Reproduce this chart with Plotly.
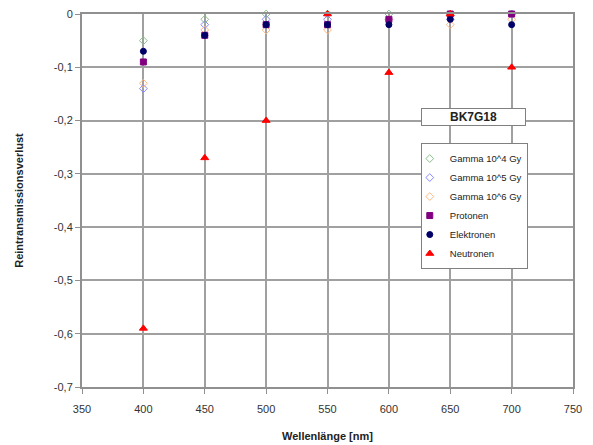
import plotly.graph_objects as go

wavelength = [400, 450, 500, 550, 600, 650, 700]
gamma4 = [-0.05, -0.01, 0.0, 0.0, 0.0, 0.0, 0.0]
gamma5 = [-0.14, -0.02, -0.01, -0.01, -0.01, -0.01, 0.0]
gamma6 = [-0.13, -0.03, -0.03, -0.03, -0.01, -0.02, -0.01]
protonen = [-0.09, -0.04, -0.02, -0.02, -0.01, 0.0, 0.0]
elektronen = [-0.07, -0.04, -0.02, -0.02, -0.02, -0.01, -0.02]
neutronen = [-0.59, -0.27, -0.2, 0.0, -0.11, 0.0, -0.1]

y_tickvals = [0, -0.1, -0.2, -0.3, -0.4, -0.5, -0.6, -0.7]
y_ticktext = ["0", "-0,1", "-0,2", "-0,3", "-0,4", "-0,5", "-0,6", "-0,7"]

series = [
    ("Gamma 10^4 Gy", gamma4, "diamond-open", "#88c088", 6),
    ("Gamma 10^5 Gy", gamma5, "diamond-open", "#8888ff", 6),
    ("Gamma 10^6 Gy", gamma6, "diamond-open", "#ffb880", 6),
    ("Protonen", protonen, "square", "#800080", 6),
    ("Elektronen", elektronen, "circle", "#000066", 6),
    ("Neutronen", neutronen, "triangle-up", "#ff0000", 7),
]

fig = go.Figure()
for name, vals, sym, col, sz in series:
    fig.add_trace(go.Scatter(
        x=wavelength, y=vals, mode="markers", name=name,
        marker=dict(symbol=sym, color=col, size=sz, line=dict(color=col, width=1)),
        cliponaxis=False,
    ))

axis_common = dict(
    showgrid=True, gridcolor="#a0a0a0", gridwidth=1.5,
    showline=True, linecolor="#909090", linewidth=2, mirror=True,
    ticks="outside", ticklen=5, tickcolor="#909090",
    zeroline=False, automargin=False,
    tickfont=dict(family="Liberation Sans, Arial", size=11, color="#333333"),
)

fig.update_layout(
    width=593, height=445,
    margin=dict(l=82, r=20, t=14, b=58),
    paper_bgcolor="white", plot_bgcolor="white",
    font=dict(family="Liberation Sans, Arial", size=11, color="#222222"),
    xaxis=dict(range=[350, 750], dtick=50, ticklabelstandoff=6,
               title=dict(text="<b>Wellenlänge [nm]</b>", font=dict(size=11), standoff=18),
               **axis_common),
    yaxis=dict(range=[-0.7, 0], tickvals=y_tickvals, ticktext=y_ticktext,
               title=dict(text="<b>Reintransmissionsverlust</b>", font=dict(size=11), standoff=28),
               **axis_common),
    legend=dict(
        x=0.69, y=0.654, xanchor="left", yanchor="top",
        bgcolor="white", bordercolor="#808080", borderwidth=1,
        font=dict(size=9.5, color="#222222"),
        itemwidth=30, tracegroupgap=0, indentation=-12,
    ),
    annotations=[dict(
        text="<b>BK7G18</b>", x=0.797, y=0.724, xref="paper", yref="paper",
        xanchor="center", yanchor="middle",
        showarrow=False, font=dict(size=12, color="#222222"),
        bgcolor="white", bordercolor="#808080", borderwidth=1,
        width=101, height=14,
    )],
)

fig.write_html("out.html")
